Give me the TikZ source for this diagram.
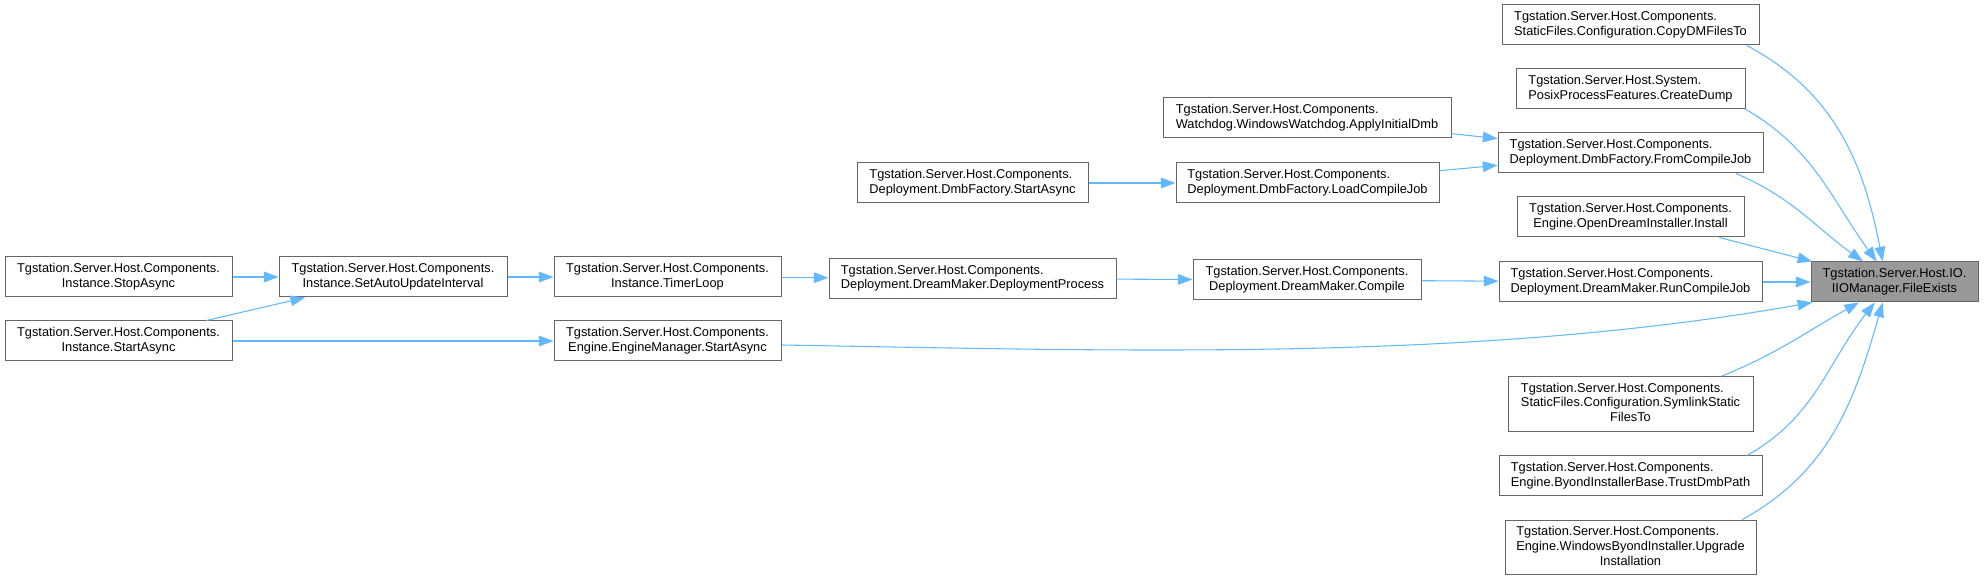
\documentclass[tikz,border=0pt]{standalone}
\usepackage{fontspec}
\setmainfont{Liberation Sans}
\usetikzlibrary{arrows.meta}
\definecolor{edgeblue}{HTML}{63B8FF}
\definecolor{boxline}{HTML}{666666}
\definecolor{rootfill}{HTML}{999999}

\begin{document}
\begin{tikzpicture}[>={Triangle[length=11pt,width=8pt]}, x=0.75pt, y=0.75pt,
  fn/.style={draw=boxline, fill=white, line width=0.75pt, inner sep=0pt,
             minimum height=30pt, font=\fontsize{9.6}{11}\selectfont},
  tall/.style={minimum height=41pt},
  wd/.style={minimum width=#1*0.75pt},
  call/.style={->, draw=edgeblue, line width=0.8pt}]
  %================= Parameters (edit these) =================
  % column centres, in px from the left
  \def\cA{118.5}
  \def\cB{393}
  \def\cC{667.5}
  \def\cD{972.5}
  \def\cE{1307}
  \def\cF{1630.5}
  \def\cG{1894.5}
  % label: first line flush left, the rest centred
  \def\lbl#1#2{\begin{tabular}{@{}c@{}}\multicolumn{1}{@{}l@{}}{#1}\\#2\end{tabular}}
  \useasboundingbox (0,0) rectangle (1984,581);

  %================= Target =================
  \node[fn, wd=167, fill=rootfill] (exists) at (\cG,299)
    {\lbl{Tgstation.Server.Host.IO.}{IIOManager.FileExists}};

  %================= Direct callers =================
  \node[fn, wd=257] (copyfiles) at (\cF,556)
    {\lbl{Tgstation.Server.Host.Components.}{StaticFiles.Configuration.CopyDMFilesTo}};
  \node[fn, wd=229] (createdump) at (\cF,492)
    {\lbl{Tgstation.Server.Host.System.}{PosixProcessFeatures.CreateDump}};
  \node[fn, wd=265] (fromjob) at (\cF,428)
    {\lbl{Tgstation.Server.Host.Components.}{Deployment.DmbFactory.FromCompileJob}};
  \node[fn, wd=227] (install) at (\cF,364)
    {\lbl{Tgstation.Server.Host.Components.}{Engine.OpenDreamInstaller.Install}};
  \node[fn, wd=263] (runjob) at (\cF,299)
    {\lbl{Tgstation.Server.Host.Components.}{Deployment.DreamMaker.RunCompileJob}};
  \node[fn, tall, wd=245] (symlink) at (\cF,177)
    {\lbl{Tgstation.Server.Host.Components.}{StaticFiles.Configuration.SymlinkStatic\\FilesTo}};
  \node[fn, wd=263] (trustpath) at (\cF,105)
    {\lbl{Tgstation.Server.Host.Components.}{Engine.ByondInstallerBase.TrustDmbPath}};
  \node[fn, tall, wd=251] (upgrade) at (\cF,33.5)
    {\lbl{Tgstation.Server.Host.Components.}{Engine.WindowsByondInstaller.Upgrade\\Installation}};

  %================= Further callers =================
  \node[fn, wd=288] (applydmb) at (\cE,463)
    {\lbl{Tgstation.Server.Host.Components.}{Watchdog.WindowsWatchdog.ApplyInitialDmb}};
  \node[fn, wd=263] (loadjob) at (\cE+0.5,398)
    {\lbl{Tgstation.Server.Host.Components.}{Deployment.DmbFactory.LoadCompileJob}};
  \node[fn, wd=228] (compile) at (\cE,301)
    {\lbl{Tgstation.Server.Host.Components.}{Deployment.DreamMaker.Compile}};
  \node[fn, wd=231] (dmbstart) at (\cD,398)
    {\lbl{Tgstation.Server.Host.Components.}{Deployment.DmbFactory.StartAsync}};
  \node[fn, wd=287] (deployproc) at (\cD,302.5)
    {\lbl{Tgstation.Server.Host.Components.}{Deployment.DreamMaker.DeploymentProcess}};
  \node[fn, wd=227] (timerloop) at (\cC,304)
    {\lbl{Tgstation.Server.Host.Components.}{Instance.TimerLoop}};
  \node[fn, wd=227] (enginestart) at (\cC,240)
    {\lbl{Tgstation.Server.Host.Components.}{Engine.EngineManager.StartAsync}};
  \node[fn, wd=228] (autoupdate) at (\cB,304)
    {\lbl{Tgstation.Server.Host.Components.}{Instance.SetAutoUpdateInterval}};
  \node[fn, wd=227] (stopasync) at (\cA,304)
    {\lbl{Tgstation.Server.Host.Components.}{Instance.StopAsync}};
  \node[fn, wd=227] (startasync) at (\cA,240)
    {\lbl{Tgstation.Server.Host.Components.}{Instance.StartAsync}};

  %================= Calls into the target =================
  \draw[call] (copyfiles.-10) to[out=-28, in=101] (exists.120);
  \draw[call] (createdump.-10.4) to[out=-30, in=126] (exists.131);
  \draw[call] (fromjob.-11) to[out=-23, in=144] (exists.147.6);
  \draw[call] (install.-13) -- (exists.166);
  \draw[call] (runjob) -- (exists);
  \draw[call] (enginestart.-2) to[out=-1, in=-170, looseness=0.85] (exists.194);
  \draw[call] (symlink.17) to[out=22, in=-151] (exists.210);
  \draw[call] (trustpath.10) to[out=29, in=-128] (exists.226);
  \draw[call] (upgrade.14) to[out=29, in=-106] (exists.240);

  %================= Calls between callers =================
  \draw[call] (applydmb) -- (fromjob);
  \draw[call] (loadjob) -- (fromjob);
  \draw[call] (dmbstart) -- (loadjob);
  \draw[call] (compile) -- (runjob);
  \draw[call] (deployproc) -- (compile);
  \draw[call] (timerloop) -- (deployproc);
  \draw[call] (autoupdate) -- (timerloop);
  \draw[call] (stopasync) -- (autoupdate);
  \draw[call] (startasync) -- (autoupdate);
  \draw[call] (startasync) -- (enginestart);

\end{tikzpicture}
\end{document}
